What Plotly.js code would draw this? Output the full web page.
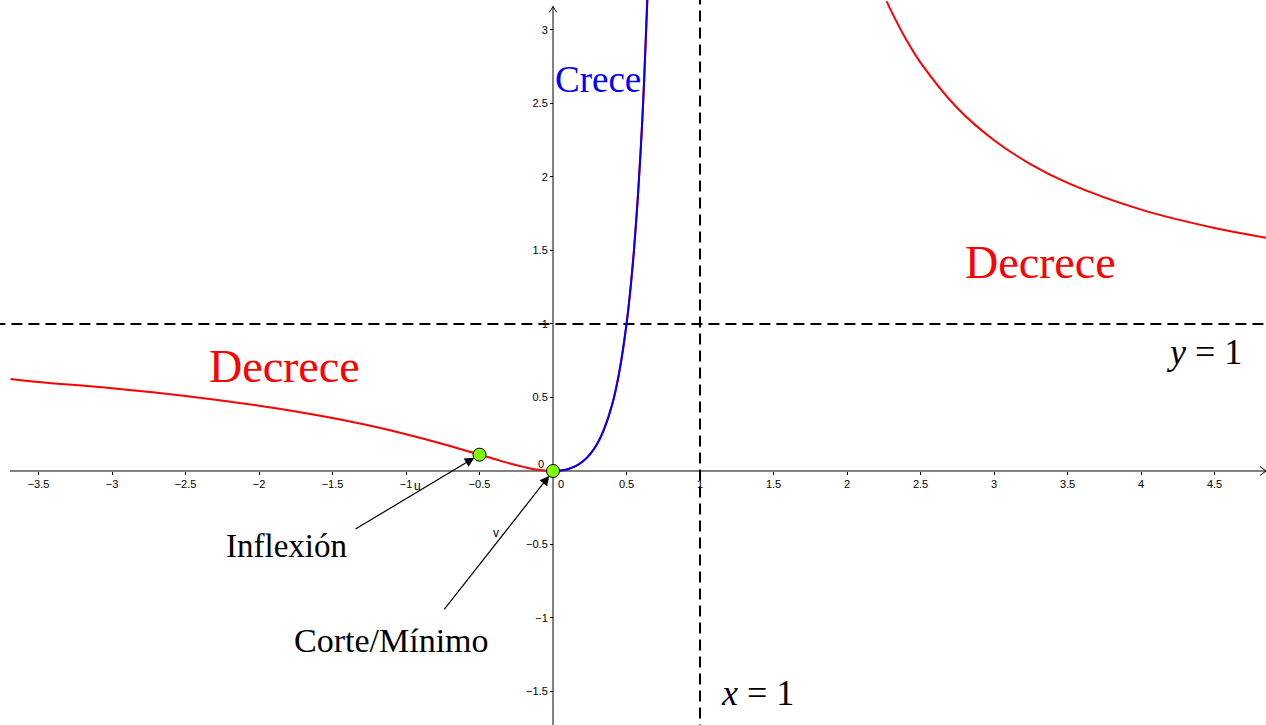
<!DOCTYPE html>
<html>
<head>
<meta charset="utf-8">
<script src="https://cdn.plot.ly/plotly-3.0.1.min.js"></script>
<style>
  html, body { margin: 0; padding: 0; background: #fff; }
  #myDiv { width: 1266px; height: 725px; }
</style>
</head>
<body>
<div id="myDiv"></div>
<script>
// values
var leftX = [-3.69, -3.5, -3, -2.5, -2, -1.75, -1.5, -1.25, -1, -0.75, -0.5, -0.4, -0.3, -0.2, -0.1, 0,
             0.1, 0.2, 0.3, 0.4, 0.45, 0.5, 0.55, 0.6, 0.62, 0.645];
var leftY = [0.626, 0.605, 0.563, 0.51, 0.444, 0.405, 0.36, 0.309, 0.25, 0.184, 0.111, 0.082, 0.053, 0.028, 0.008, 0,
             0.012, 0.063, 0.184, 0.444, 0.669, 1, 1.494, 2.25, 2.662, 3.3];
var riseX = [0, 0.05, 0.1, 0.15, 0.2, 0.25, 0.3, 0.35, 0.4, 0.45, 0.5, 0.525, 0.55, 0.575, 0.6, 0.62, 0.645];
var riseY = [0, 0.003, 0.012, 0.031, 0.063, 0.111, 0.184, 0.29, 0.444, 0.669, 1, 1.222, 1.494, 1.831, 2.25, 2.662, 3.3];
var rightX = [2.27, 2.3, 2.4, 2.5, 2.75, 3, 3.25, 3.5, 4, 4.5, 4.85];
var rightY = [3.195, 3.13, 2.939, 2.778, 2.469, 2.25, 2.086, 1.96, 1.778, 1.653, 1.587];
var pointsX = [-0.5, 0];
var pointsY = [0.111, 0];
var xTicks = [-3.5, -3, -2.5, -2, -1.5, -1, -0.5, 0.5, 1, 1.5, 2, 2.5, 3, 3.5, 4, 4.5];
var yTicks = [-1.5, -1, -0.5, 0.5, 1, 1.5, 2, 2.5, 3];

function tickText(v) { return String(v).replace('-', '\u2212'); }

var dash = {color: 'black', width: 2, dash: '11px,6px'};

var data = [
  {x: [1, 1], y: [-1.8, 3.3], mode: 'lines', line: dash, hoverinfo: 'skip'},
  {x: [-3.8, 4.9], y: [1, 1], mode: 'lines', line: dash, hoverinfo: 'skip'},
  {x: leftX, y: leftY, mode: 'lines', line: {color: '#ff0000', width: 2, shape: 'spline'}},
  {x: rightX, y: rightY, mode: 'lines', line: {color: '#ff0000', width: 2, shape: 'spline'}},
  {x: riseX, y: riseY, mode: 'lines', line: {color: '#0000ff', width: 2, shape: 'spline'}},
  {x: pointsX, y: pointsY, mode: 'markers',
   marker: {color: '#7fff00', size: 13, line: {color: 'black', width: 1}}}
];

var serif = 'Liberation Serif, Times New Roman, serif';
var sans = 'Liberation Sans, Arial, sans-serif';

function label(txt, x, y, size, color) {
  return {text: txt, x: x, y: y, showarrow: false, font: {family: serif, size: size, color: color}};
}

var layout = {
  width: 1266,
  height: 725,
  margin: {l: 0, r: 0, t: 0, b: 0},
  paper_bgcolor: 'white',
  plot_bgcolor: 'white',
  showlegend: false,
  xaxis: {
    range: [-3.762, 4.85], anchor: 'free', position: 0.3503,
    showgrid: false, zeroline: false, showline: false,
    ticks: 'outside', ticklen: 3, tickcolor: 'black',
    tickvals: xTicks, ticktext: xTicks.map(tickText),
    tickfont: {family: sans, size: 11, color: 'black'}
  },
  yaxis: {
    range: [-1.728, 3.204], anchor: 'free', position: 0.4368,
    showgrid: false, zeroline: false, showline: false,
    ticks: 'outside', ticklen: 3, tickcolor: 'black',
    tickvals: yTicks, ticktext: yTicks.map(tickText),
    tickfont: {family: sans, size: 11, color: 'black'}
  },
  shapes: [
    {type: 'line', x0: -3.694, x1: 4.85, y0: 0, y1: 0, line: {color: 'black', width: 1}, layer: 'below'},
    {type: 'line', x0: 0, x1: 0, y0: -1.8, y1: 3.16, line: {color: 'black', width: 1}, layer: 'below'},
    {type: 'path', path: 'M 4.81,0.03 L 4.85,0 L 4.81,-0.03', line: {color: 'black', width: 1}},
    {type: 'path', path: 'M -0.025,3.12 L 0,3.16 L 0.025,3.12', line: {color: 'black', width: 1}}
  ],
  annotations: [
    label('Crece', 0.306, 2.66, 37, '#0000ff'),
    label('Decrece', -1.83, 0.714, 46, '#ff0000'),
    label('Decrece', 3.313, 1.415, 46, '#ff0000'),
    label('<i>y</i> = 1', 4.435, 0.81, 36, 'black'),
    label('<i>x</i> = 1', 1.388, -1.51, 36, 'black'),
    label('Inflexión', -1.816, -0.51, 33, 'black'),
    label('Corte/Mínimo', -1.102, -1.156, 34, 'black'),
    {text: '0', x: 0.054, y: -0.09, showarrow: false, font: {family: sans, size: 11, color: 'black'}},
    {text: '0', x: -0.085, y: 0.05, showarrow: false, font: {family: sans, size: 11, color: 'black'}},
    {text: 'u', x: -0.925, y: -0.1, showarrow: false, font: {family: sans, size: 12, color: 'black'}},
    {text: 'v', x: -0.388, y: -0.42, showarrow: false, font: {family: sans, size: 12, color: 'black'}},
    {text: '', x: pointsX[0], y: pointsY[0], ax: -1.354, ay: -0.401, axref: 'x', ayref: 'y',
     showarrow: true, arrowhead: 2, arrowsize: 1.6, arrowwidth: 1.2, arrowcolor: 'black', standoff: 6},
    {text: '', x: pointsX[1], y: pointsY[1], ax: -0.748, ay: -0.952, axref: 'x', ayref: 'y',
     showarrow: true, arrowhead: 2, arrowsize: 1.6, arrowwidth: 1.2, arrowcolor: 'black', standoff: 6}
  ]
};

Plotly.newPlot('myDiv', data, layout, {displayModeBar: false, staticPlot: true});
</script>
</body>
</html>
